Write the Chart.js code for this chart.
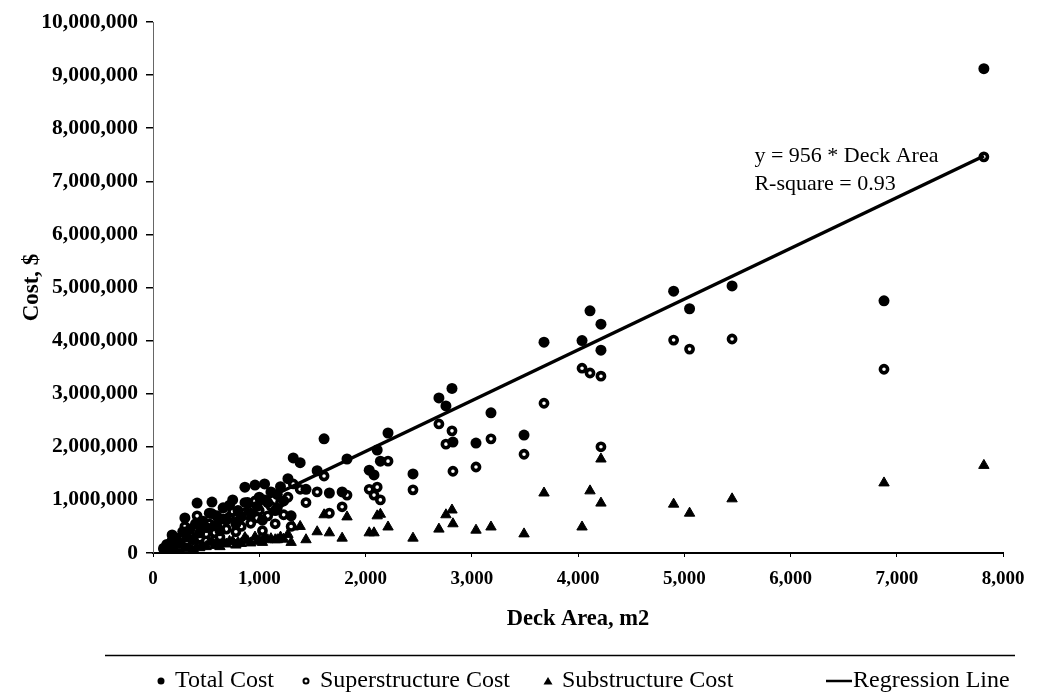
<!DOCTYPE html>
<html>
<head>
<meta charset="utf-8">
<script src="https://cdn.jsdelivr.net/npm/chart.js@4.4.1/dist/chart.umd.min.js"></script>
<style>
  html, body { margin: 0; padding: 0; background: #fff; }
  #wrap { width: 1039px; height: 698px; }
</style>
</head>
<body>
<div id="wrap"><canvas id="c"></canvas></div>
<script>
// deck area (m2) of each bridge
const deckArea = [
  100, 130, 160, 180, 200, 220, 250, 280, 300, 320, 350, 380, 400, 415, 440,
  470, 500, 530, 555, 580, 600, 630, 660, 690, 720, 750, 780, 800, 830, 865,
  890, 920, 960, 980, 1000, 1030, 1050, 1080, 1110, 1150, 1170, 1200, 1230, 1270, 1300,
  1320, 1385, 1440, 1545, 1610, 1660, 1780, 1826,
  2035, 2080, 2110, 2140, 2212, 2447,
  2691, 2757, 2814, 2823, 3040, 3181, 3492, 3680,
  4038, 4113, 4216, 4216,
  4900, 5050, 5450, 6880, 7820
];

const totalCost = [
  90000, 160000, 120000, 340000, 220000, 280000, 180000, 400000, 660000, 300000, 450000, 250000, 550000, 940000, 380000,
  600000, 480000, 750000, 960000, 520000, 700000, 420000, 850000, 620000, 900000, 1000000, 550000, 800000, 680000, 1240000,
  950000, 750000, 1280000, 880000, 1050000, 620000, 1300000, 950000, 1150000, 800000, 1100000, 1250000, 980000, 1400000, 700000,
  1790000, 1700000, 1200000, 1550000, 2150000, 1130000, 1150000, 1770000,
  1560000, 1470000, 1940000, 1730000, 2260000, 1490000,
  2920000, 2770000, 3100000, 2090000, 2070000, 2640000, 2220000, 3970000,
  4000000, 4560000, 4310000, 3820000,
  4930000, 4600000, 5030000, 4750000, 9120000
];

const superCost = [
  70000, 120000, 80000, 240000, 160000, 200000, 120000, 300000, 500000, 220000, 340000, 180000, 420000, 700000, 280000,
  460000, 360000, 550000, 740000, 380000, 520000, 300000, 640000, 450000, 680000, 780000, 400000, 600000, 500000, 950000,
  720000, 560000, 980000, 660000, 800000, 420000, 1000000, 700000, 880000, 550000, 850000, 950000, 720000, 1050000, 500000,
  1300000, 1200000, 950000, 1150000, 1450000, 750000, 870000, 1090000,
  1200000, 1090000, 1240000, 1000000, 1730000, 1190000,
  2430000, 2050000, 2300000, 1540000, 1620000, 2150000, 1860000, 2820000,
  3480000, 3390000, 3330000, 2000000,
  4010000, 3840000, 4030000, 3460000, 7460000
];

const subCost = [
  20000, 40000, 40000, 100000, 60000, 80000, 60000, 100000, 160000, 80000, 110000, 70000, 130000, 240000, 100000,
  140000, 120000, 200000, 220000, 140000, 180000, 120000, 210000, 170000, 220000, 220000, 150000, 200000, 180000, 290000,
  230000, 190000, 300000, 220000, 250000, 200000, 300000, 250000, 270000, 250000, 250000, 300000, 260000, 350000, 200000,
  490000, 500000, 250000, 400000, 720000, 380000, 280000, 680000,
  380000, 380000, 700000, 730000, 490000, 280000,
  450000, 720000, 810000, 550000, 430000, 490000, 360000, 1130000,
  490000, 1170000, 940000, 1770000,
  920000, 750000, 1020000, 1320000, 1650000
];

// regression: y = 956 * Deck Area
const regressionX = [600, 7820];
const regressionY = [573600, 7475920];

const seriesNames = ["Total Cost", "Superstructure Cost", "Substructure Cost", "Regression Line"];
const noteLines = ["y = 956 * Deck Area", "R-square = 0.93"];

const serif = '"Liberation Serif", "Times New Roman", serif';

const pts = (ys) => deckArea.map((x, i) => ({ x: x, y: ys[i] }));

const extras = {
  id: "extras",
  afterDraw(chart) {
    const { ctx, scales } = chart;
    const x = scales.x, y = scales.y;
    ctx.save();
    ctx.fillStyle = "#000";
    ctx.strokeStyle = "#000";

    // equation note
    ctx.font = "22px " + serif;
    ctx.textAlign = "left";
    ctx.textBaseline = "middle";
    const nx = x.getPixelForValue(5660);
    const ny = y.getPixelForValue(7470000);
    ctx.fillText(noteLines[0], nx, ny);
    ctx.fillText(noteLines[1], nx, ny + 28);

    // rule above legend
    ctx.lineWidth = 1.5;
    ctx.beginPath();
    ctx.moveTo(105, 655.5);
    ctx.lineTo(1015, 655.5);
    ctx.stroke();

    // legend
    const ly = 681;
    ctx.font = "24px " + serif;
    // total
    ctx.beginPath();
    ctx.arc(161, ly, 3.5, 0, Math.PI * 2);
    ctx.fill();
    ctx.fillText(seriesNames[0], 175, ly);
    // super
    ctx.beginPath();
    ctx.arc(306, ly, 2.5, 0, Math.PI * 2);
    ctx.lineWidth = 2;
    ctx.stroke();
    ctx.fillText(seriesNames[1], 320, ly);
    // sub
    ctx.beginPath();
    ctx.moveTo(548, ly - 4);
    ctx.lineTo(552.5, ly + 3.5);
    ctx.lineTo(543.5, ly + 3.5);
    ctx.closePath();
    ctx.fill();
    ctx.fillText(seriesNames[2], 562, ly);
    // regression
    ctx.lineWidth = 2.5;
    ctx.beginPath();
    ctx.moveTo(826, ly);
    ctx.lineTo(852, ly);
    ctx.stroke();
    ctx.fillText(seriesNames[3], 853, ly);

    ctx.restore();
  }
};

new Chart(document.getElementById("c"), {
  type: "scatter",
  data: {
    datasets: [
      {
        label: seriesNames[3],
        type: "line",
        data: regressionX.map((x, i) => ({ x: x, y: regressionY[i] })),
        borderColor: "#000",
        borderWidth: 3.5,
        pointRadius: 0,
        fill: false,
        order: 0
      },
      {
        label: seriesNames[0],
        data: pts(totalCost),
        pointStyle: "circle",
        pointRadius: 5.5,
        backgroundColor: "#000",
        borderColor: "#000",
        borderWidth: 0,
        order: 1
      },
      {
        label: seriesNames[1],
        data: pts(superCost),
        pointStyle: "circle",
        pointRadius: 3.6,
        backgroundColor: "#fff",
        borderColor: "#000",
        borderWidth: 3.6,
        order: 2
      },
      {
        label: seriesNames[2],
        data: pts(subCost),
        pointStyle: "triangle",
        pointRadius: 6,
        backgroundColor: "#000",
        borderColor: "#000",
        borderWidth: 1,
        order: 3
      }
    ]
  },
  options: {
    responsive: true,
    maintainAspectRatio: false,
    animation: false,
    layout: {
      padding: { top: 22, right: 36, left: 0, bottom: 0 }
    },
    plugins: {
      legend: { display: false },
      tooltip: { enabled: false }
    },
    scales: {
      x: {
        type: "linear",
        min: 0,
        max: 8000,
        afterFit: (s) => { s.height = 145; },
        border: { display: true, color: "#000", width: 2 },
        grid: { drawOnChartArea: false, drawTicks: true, tickLength: 4, color: "#000" },
        ticks: {
          stepSize: 1000,
          color: "#000",
          padding: 11,
          maxRotation: 0,
          font: { family: serif, size: 19, weight: "bold" },
          callback: (v) => v.toLocaleString("en-US")
        },
        title: {
          display: true,
          text: "Deck Area, m2",
          color: "#000",
          font: { family: serif, size: 22.5, weight: "bold" },
          padding: { top: 0, bottom: 65 }
        }
      },
      y: {
        type: "linear",
        min: 0,
        max: 10000000,
        afterFit: (s) => { s.width = 153; },
        border: { display: true, color: "#666", width: 1, dash: [2, 3] },
        grid: { drawOnChartArea: false, drawTicks: true, tickLength: 7, color: "#000", lineWidth: 1.5 },
        ticks: {
          stepSize: 1000000,
          color: "#000",
          padding: 8,
          font: { family: serif, size: 21.5, weight: "bold" },
          callback: (v) => v.toLocaleString("en-US")
        },
        title: {
          display: true,
          text: "Cost, $",
          color: "#000",
          font: { family: serif, size: 23, weight: "bold" },
          padding: { top: 18, bottom: 0 }
        }
      }
    }
  },
  plugins: [extras]
});
</script>
</body>
</html>
